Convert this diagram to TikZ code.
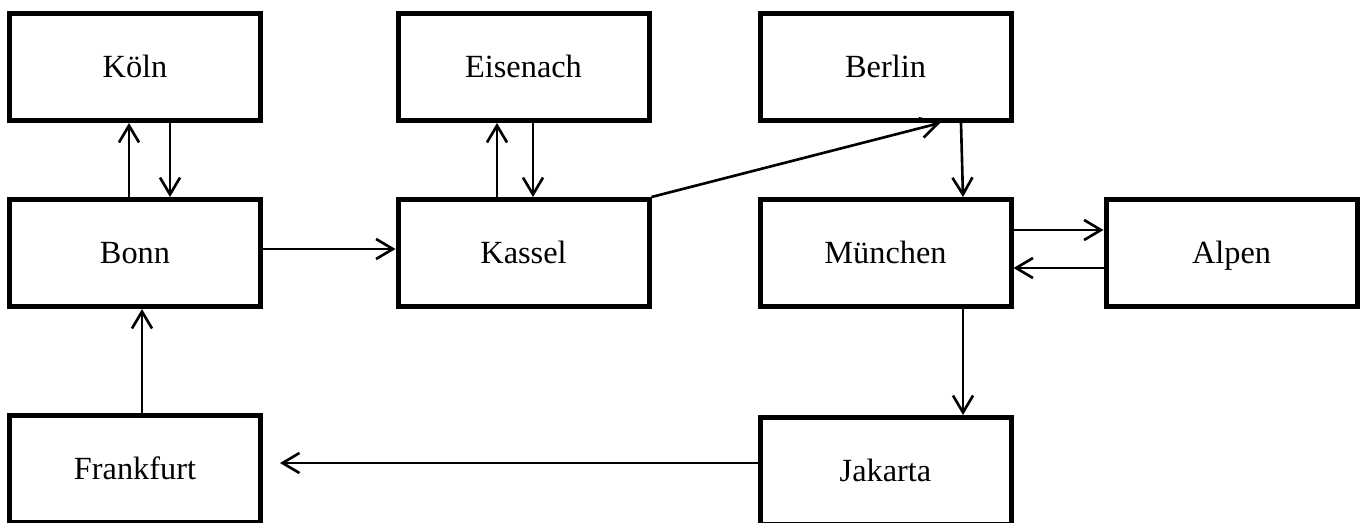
\documentclass[tikz,border=0pt]{standalone}
\usepackage{fontspec}
\setmainfont{Liberation Serif}
\usepackage{tikz}
\usetikzlibrary{arrows.meta}
\usetikzlibrary{positioning}

\begin{document}
\begin{tikzpicture}[
    	scale=1,
    	city/.style={draw,line width=1.42pt,minimum width=2.51cm,minimum height=1.07cm,text height=1.6ex,text depth=0.3ex,font=\fontsize{9.2pt}{10pt}\selectfont},
    	arr/.style={-{Straight Barb[length=4.8pt,width=5.7pt]},line width=0.75pt},
    ]
    \clip (0,0) rectangle (13.69,5.22);
    % first row
    \node[city] (koeln) at (1.35,4.55) {Köln};
    \node[city] (eisenach) at (5.235,4.55) {Eisenach};
    \node[city] (berlin) at (8.855,4.55) {Berlin};
    % second row
    \node[city] (bonn) at (1.35,2.69) {Bonn};
    \node[city] (kassel) at (5.235,2.69) {Kassel};
    \node[city] (muenchen) at (8.855,2.69) {München};
    \node[city] (alpen) at (12.315,2.69) {Alpen};
    % third row, cut at the bottom
    \node[city] (frankfurt) at (1.35,0.53) {Frankfurt};
    \node[city] (jakarta) at (8.855,0.51) {Jakarta};
    % connectors
    \draw[arr] ([xshift=-0.6mm]bonn.north) -- ([xshift=-0.6mm]koeln.south);
    \draw[arr] ([xshift=3.5mm]koeln.south) -- ([xshift=3.5mm]bonn.north);
    \draw[arr] ([yshift=0.4mm]bonn.east) -- ([yshift=0.4mm]kassel.west);
    \draw[arr] ([xshift=-2.65mm]kassel.north) -- ([xshift=-2.65mm]eisenach.south);
    \draw[arr] ([xshift=0.95mm]eisenach.south) -- ([xshift=0.95mm]kassel.north);
    \draw[arr] (kassel.north east) -- ([xshift=5.45mm]berlin.south);
    \draw[arr] ([xshift=7.55mm]berlin.south) -- ([xshift=7.75mm]muenchen.north);
    \draw[arr] ([yshift=2.3mm]muenchen.east) -- ([yshift=2.3mm]muenchen.east -| alpen.west);
    \draw[arr] ([yshift=-1.5mm]alpen.west) -- ([yshift=-1.5mm]alpen.west -| muenchen.east);
    \draw[arr] ([xshift=7.75mm]muenchen.south) -- ([xshift=7.75mm]jakarta.north);
    \draw[arr,shorten >=1.7mm] ([yshift=0.8mm]jakarta.west) -- ([yshift=0.8mm]jakarta.west -| frankfurt.east);
    \draw[arr] ([xshift=0.7mm]frankfurt.north) -- ([xshift=0.7mm]bonn.south);
\end{tikzpicture}
\end{document}
